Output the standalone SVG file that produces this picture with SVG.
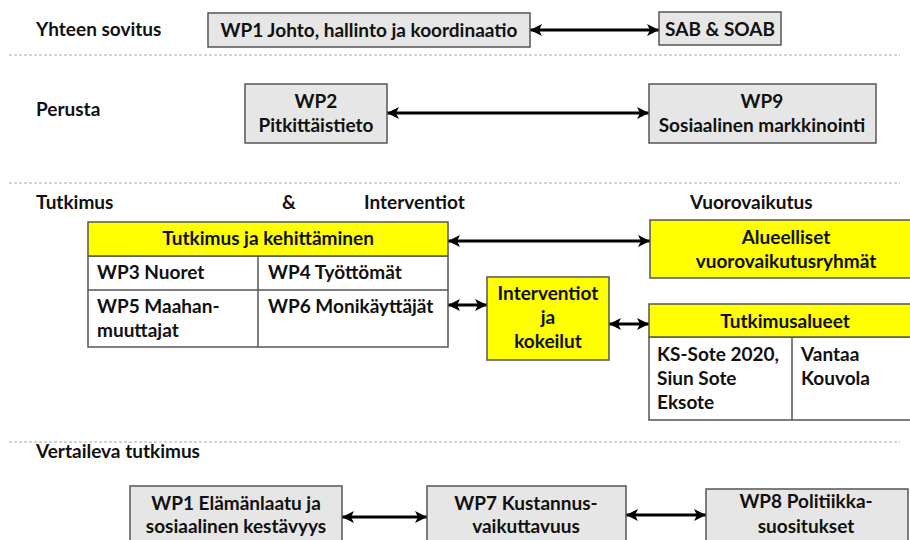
<svg xmlns="http://www.w3.org/2000/svg" width="910" height="540" viewBox="0 0 910 540">
<defs>
<style>
text{font-family:Lato,"Liberation Sans",Arial,sans-serif;font-weight:bold;font-size:19px;fill:#111}
.c{text-anchor:middle}
.gray{fill:#e7e6e6;stroke:#555;stroke-width:1.5}
.yel{fill:#ffff00;stroke:#555;stroke-width:1.5}
.wht{fill:#fff;stroke:#555;stroke-width:1.5}
.dash{stroke:#aaa;stroke-width:1;stroke-dasharray:3 2;fill:none}
.arr{stroke:#000;stroke-width:2.8;fill:none;marker-start:url(#ah);marker-end:url(#ah)}
</style>
<marker id="ah" viewBox="0 0 10 10" refX="10" refY="5" markerWidth="12" markerHeight="12" markerUnits="userSpaceOnUse" orient="auto-start-reverse">
<path d="M0,0 L10,5 L0,10 L2.5,5 z" fill="#000"/>
</marker>
</defs>

<g id="section-lines">
<line class="dash" x1="9" y1="55" x2="900" y2="55"/>
<line class="dash" x1="9" y1="183" x2="900" y2="183"/>
<line class="dash" x1="9" y1="442" x2="900" y2="442"/>
</g>

<g id="labels">
<text x="36" y="36">Yhteen sovitus</text>
<text x="36" y="116">Perusta</text>
<text x="36" y="209">Tutkimus</text>
<text x="282" y="209">&amp;</text>
<text x="364" y="209">Interventiot</text>
<text x="690" y="209">Vuorovaikutus</text>
<text x="36" y="458">Vertaileva tutkimus</text>
</g>

<g id="connectors">
<line class="arr" x1="530" y1="30" x2="659" y2="30"/>
<line class="arr" x1="387" y1="113" x2="649" y2="113"/>
<line class="arr" x1="448" y1="241" x2="650" y2="241"/>
<line class="arr" x1="448" y1="305" x2="487" y2="305"/>
<line class="arr" x1="609" y1="324" x2="649" y2="324"/>
<line class="arr" x1="342" y1="517" x2="427" y2="517"/>
<line class="arr" x1="626" y1="515" x2="706" y2="515"/>
</g>

<g id="wp1-johto">
<rect class="gray" x="208" y="13" width="322" height="34"/>
<text class="c" x="369" y="37">WP1 Johto, hallinto ja koordinaatio</text>
</g>

<g id="sab-soab">
<rect class="gray" x="659" y="12" width="122" height="33"/>
<text class="c" x="720" y="36">SAB &amp; SOAB</text>
</g>

<g id="wp2">
<rect class="gray" x="245" y="84" width="142" height="59"/>
<text class="c" x="316" y="108">WP2</text>
<text class="c" x="316" y="132">Pitkittäistieto</text>
</g>

<g id="wp9">
<rect class="gray" x="649" y="84" width="227" height="59"/>
<text class="c" x="762" y="108">WP9</text>
<text class="c" x="762" y="132">Sosiaalinen markkinointi</text>
</g>

<g id="tutkimus-ja-kehittaminen">
<rect class="wht" x="88" y="256" width="360" height="91"/>
<line stroke="#555" stroke-width="1.5" x1="88" y1="290" x2="448" y2="290"/>
<line stroke="#555" stroke-width="1.5" x1="258" y1="256" x2="258" y2="347"/>
<rect class="yel" x="88" y="222" width="360" height="34"/>
<text class="c" x="268" y="245">Tutkimus ja kehittäminen</text>
<text x="97" y="279">WP3 Nuoret</text>
<text x="268" y="279">WP4 Työttömät</text>
<text x="97" y="313">WP5 Maahan-</text>
<text x="97" y="337">muuttajat</text>
<text x="268" y="313">WP6 Monikäyttäjät</text>
</g>

<g id="alueelliset">
<rect class="yel" x="650" y="220" width="272" height="58"/>
<text class="c" x="786" y="244">Alueelliset</text>
<text class="c" x="786" y="268">vuorovaikutusryhmät</text>
</g>

<g id="interventiot">
<rect class="yel" x="487" y="277" width="122" height="83"/>
<text class="c" x="548" y="300">Interventiot</text>
<text class="c" x="548" y="324">ja</text>
<text class="c" x="548" y="348">kokeilut</text>
</g>

<g id="tutkimusalueet">
<rect class="wht" x="649" y="337" width="272" height="83"/>
<line stroke="#555" stroke-width="1.5" x1="792" y1="337" x2="792" y2="420"/>
<rect class="yel" x="649" y="304" width="272" height="33"/>
<text class="c" x="785" y="328">Tutkimusalueet</text>
<text x="657" y="361">KS-Sote 2020,</text>
<text x="657" y="385">Siun Sote</text>
<text x="657" y="409">Eksote</text>
<text x="801" y="361">Vantaa</text>
<text x="801" y="385">Kouvola</text>
</g>

<g id="wp1-elamanlaatu">
<rect class="gray" x="130" y="486" width="212" height="62"/>
<text class="c" x="236" y="510">WP1 Elämänlaatu ja</text>
<text class="c" x="236" y="533">sosiaalinen kestävyys</text>
</g>

<g id="wp7">
<rect class="gray" x="427" y="486" width="199" height="62"/>
<text class="c" x="526" y="510">WP7 Kustannus-</text>
<text class="c" x="526" y="533">vaikuttavuus</text>
</g>

<g id="wp8">
<rect class="gray" x="706" y="489" width="202" height="60"/>
<text class="c" x="806" y="508">WP8 Politiikka-</text>
<text class="c" x="806" y="533">suositukset</text>
</g>
</svg>
